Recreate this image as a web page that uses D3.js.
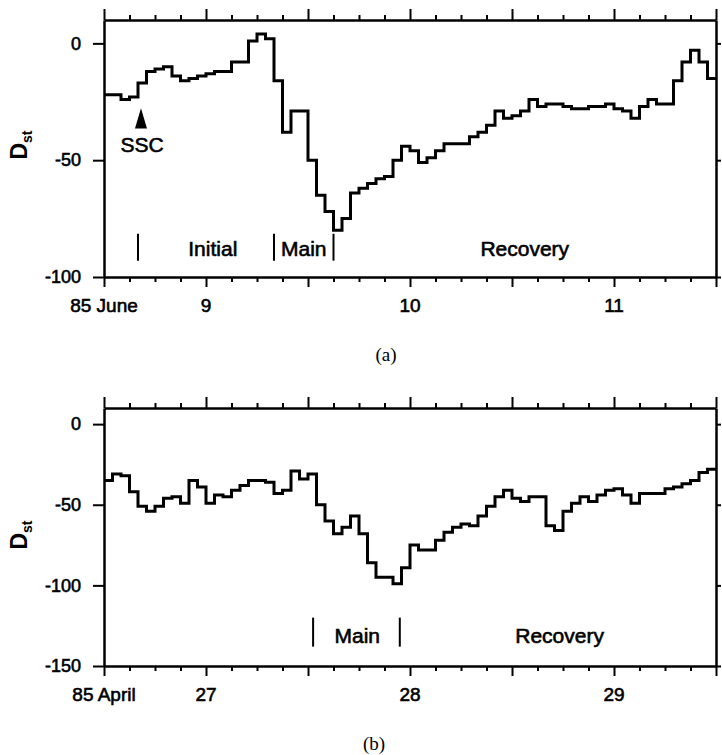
<!DOCTYPE html>
<html>
<head>
<meta charset="utf-8">
<script src="https://cdn.jsdelivr.net/npm/d3@7"></script>
<style>
  body { margin: 0; background: #fff; }
  svg { font-family: "Liberation Sans", Arial, Helvetica, sans-serif; }
  .heavy { stroke: #000; stroke-width: 0.6px; }
</style>
</head>
<body>
<svg id="chart" width="722" height="755"></svg>
<script>
// hourly Dst (nT), 1985 June 8 12UT -> June 11 12UT
const juneDst = [-22, -22, -24, -23, -17, -12, -11, -10, -14, -16, -15, -14,
                 -13, -12, -12, -8, -8, 1, 4, 2, -16, -38, -29, -29,
                 -50, -65, -72, -80, -75, -64, -62, -60, -58, -57, -50, -44,
                 -46, -51, -49, -46, -43, -43, -43, -40, -38, -35, -29, -32,
                 -31, -29, -24, -27, -26, -26, -27, -28, -28, -27, -27, -26,
                 -28, -29, -32, -27, -24, -26, -26, -16, -8, -3, -8, -15];
// hourly Dst (nT), 1985 April 26 12UT -> April 29 12UT
const aprilDst = [-35, -31, -32, -42, -51, -54, -51, -46, -45, -49, -35, -39,
                  -49, -44, -45, -41, -38, -35, -35, -36, -43, -41, -29, -34,
                  -31, -50, -60, -68, -64, -57, -68, -86, -95, -95, -99, -89,
                  -75, -78, -78, -72, -67, -64, -62, -63, -57, -51, -45, -41,
                  -46, -48, -45, -45, -63, -66, -54, -49, -45, -48, -44, -41,
                  -40, -44, -49, -43, -43, -43, -40, -39, -37, -35, -30, -28];

const juneLabels = ["85 June", "9", "10", "11"];
const aprilLabels = ["85 April", "27", "28", "29"];
const juneYTicks = [0, -50, -100];
const aprilYTicks = [0, -50, -100, -150];

// storm phases: boundary markers (hours from start) and phase names
const juneMarks = [4, 20, 27];
const junePhases = [{name: "Initial", h: 12.8}, {name: "Main", h: 23.5}, {name: "Recovery", h: 49.5}];
const aprilMarks = [24.6, 34.8];
const aprilPhases = [{name: "Main", h: 29.8}, {name: "Recovery", h: 53.6}];

const svg = d3.select("#chart");
svg.append("rect").attr("width", 722).attr("height", 755).attr("fill", "#fff");

function panel(o) {
    let start = o.start;
    let end = d3.utcHour.offset(start, o.values.length);
    let left = 104, right = 716;

    let x = d3.scaleUtc().domain([start, end]).range([left, right]);
    let y = d3.scaleLinear().domain([o.ymin, 10]).range([o.bottom, o.top]);

    let g = svg.append("g");

    let pts = o.values.map((v, i) => ({t: d3.utcHour.offset(start, i), v: v}));
    pts.push({t: end, v: o.values[o.values.length - 1]});

    let hours = d3.utcHour.every(3).range(start, d3.utcHour.offset(end, 1));
    let isMajor = d => d.getUTCHours() % 12 == 0;

    // bottom axis
    let ax = g.append("g")
        .attr("transform", `translate(0,${o.bottom})`)
        .call(d3.axisBottom(x).tickValues(hours).tickFormat("").tickSizeOuter(0));
    ax.selectAll(".tick line").attr("y2", d => isMajor(d) ? 10 : 5);

    // top axis
    let at = g.append("g")
        .attr("transform", `translate(0,${o.top})`)
        .call(d3.axisTop(x).tickValues(hours).tickFormat("").tickSizeOuter(0));
    at.selectAll(".tick line").attr("y2", d => isMajor(d) ? -11 : -5);

    // left axis
    let al = g.append("g")
        .attr("transform", `translate(${left},0)`)
        .call(d3.axisLeft(y).tickValues(o.yTicks).tickSize(11).tickSizeOuter(0).tickPadding(12)
            .tickFormat(d => d == 0 ? "0" : "-" + Math.abs(d)));
    al.selectAll("text").attr("font-size", 18).attr("fill", "#000").attr("class", "heavy");

    // right axis
    g.append("g")
        .attr("transform", `translate(${right},0)`)
        .call(d3.axisRight(y).tickValues(o.yTicks).tickSize(5).tickSizeOuter(0).tickFormat(""));

    g.selectAll(".domain").attr("stroke", "#000").attr("stroke-width", 2.5);
    g.selectAll(".tick line").attr("stroke", "#000").attr("stroke-width", 2);

    // day labels
    let labelDates = [start].concat(d3.utcDay.range(start, end));
    g.selectAll(".xlab")
        .data(labelDates)
        .enter()
        .append("text")
        .attr("class", "heavy")
        .attr("x", d => x(d))
        .attr("y", o.bottom + 35)
        .attr("text-anchor", "middle")
        .attr("font-size", 19)
        .text((d, i) => o.labels[i]);

    // Dst trace
    g.append("path")
        .datum(pts)
        .attr("fill", "none")
        .attr("stroke", "#000")
        .attr("stroke-width", 3)
        .attr("stroke-linejoin", "miter")
        .attr("d", d3.line().curve(d3.curveStepAfter).x(d => x(d.t)).y(d => y(d.v)));

    // phase markers
    let hx = h => x(new Date(+start + h * 3600e3));
    g.selectAll(".mark")
        .data(o.marks)
        .enter()
        .append("line")
        .attr("x1", d => hx(d)).attr("x2", d => hx(d))
        .attr("y1", y(o.markTop)).attr("y2", y(o.markBottom))
        .attr("stroke", "#000").attr("stroke-width", 2);
    g.selectAll(".phase")
        .data(o.phases)
        .enter()
        .append("text")
        .attr("class", "heavy")
        .attr("x", d => hx(d.h))
        .attr("y", y(o.phaseY))
        .attr("text-anchor", "middle")
        .attr("font-size", 21)
        .text(d => d.name);

    // axis title
    let t = g.append("text")
        .attr("transform", `translate(27,${o.titleY}) rotate(-90)`)
        .attr("text-anchor", "middle")
        .attr("font-size", 23)
        .attr("font-weight", "bold");
    t.append("tspan").text("D");
    t.append("tspan").attr("font-size", 14).attr("dy", 5).text("st");

    // caption
    svg.append("text")
        .attr("x", o.capX).attr("y", o.capY)
        .attr("text-anchor", "middle")
        .attr("font-family", "'Liberation Serif', 'Times New Roman', serif")
        .attr("font-size", 19)
        .text(o.caption);

    return {x: x, y: y, hx: hx, g: g};
}

let a = panel({
    start: new Date(Date.UTC(1985, 5, 8, 12)), values: juneDst, labels: juneLabels,
    yTicks: juneYTicks, ymin: -100, top: 20, bottom: 277,
    marks: juneMarks, markTop: -81.5, markBottom: -93, phases: junePhases, phaseY: -91,
    titleY: 145, caption: "(a)", capX: 386, capY: 361
});

// SSC arrow
let sx = a.hx(4.35);
a.g.append("path")
    .attr("d", `M${sx},${a.y(-27.8)} L${sx + 6},${a.y(-36.4)} L${sx - 6},${a.y(-36.4)} Z`)
    .attr("fill", "#000");
a.g.append("text")
    .attr("class", "heavy")
    .attr("x", sx + 1).attr("y", a.y(-46.5))
    .attr("text-anchor", "middle")
    .attr("font-size", 21)
    .text("SSC");

panel({
    start: new Date(Date.UTC(1985, 3, 26, 12)), values: aprilDst, labels: aprilLabels,
    yTicks: aprilYTicks, ymin: -150, top: 408, bottom: 666,
    marks: aprilMarks, markTop: -120, markBottom: -138, phases: aprilPhases, phaseY: -135.5,
    titleY: 535, caption: "(b)", capX: 374, capY: 750
});
</script>
</body>
</html>
